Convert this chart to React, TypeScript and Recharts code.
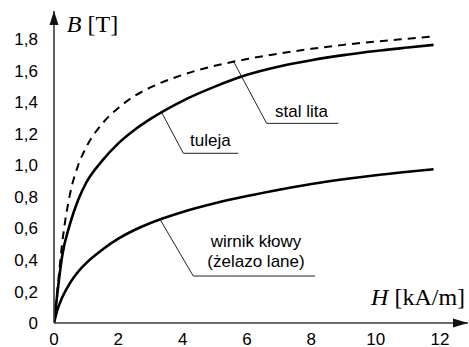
import React from 'react';
import {
  LineChart,
  Line,
  XAxis,
  YAxis,
  ReferenceLine,
  ReferenceDot,
} from 'recharts';

// Magnetising curves B(H) for three materials
const fieldH = [0, 0.1, 0.25, 0.5, 0.75, 1, 1.5, 2, 2.5, 3, 4, 5, 6, 7, 8, 9, 10, 11, 11.8];
const stalLita = [0, 0.2, 0.5, 0.82, 1.0, 1.115, 1.265, 1.365, 1.44, 1.495, 1.575, 1.632, 1.675, 1.71, 1.74, 1.765, 1.786, 1.804, 1.818];
const tuleja = [0, 0.18, 0.42, 0.63, 0.78, 0.89, 1.03, 1.14, 1.225, 1.295, 1.41, 1.5, 1.575, 1.628, 1.668, 1.7, 1.726, 1.748, 1.765];
const wirnik = [0, 0.08, 0.16, 0.255, 0.325, 0.38, 0.465, 0.535, 0.59, 0.635, 0.705, 0.76, 0.806, 0.846, 0.882, 0.912, 0.938, 0.96, 0.976];

const xTicks = [0, 2, 4, 6, 8, 10, 12];
const yTicks = [0, 0.2, 0.4, 0.6, 0.8, 1.0, 1.2, 1.4, 1.6, 1.8];

const X_MAX = 12.87;
const Y_MAX = 1.98;

const data = fieldH.map((h, i) => ({
  h,
  stal: stalLita[i],
  tul: tuleja[i],
  wir: wirnik[i],
}));

const SANS = '"Liberation Sans", Arial, sans-serif';
const SERIF = '"Liberation Serif", "Times New Roman", serif';
const AXIS_COLOR = '#3a3a3a';
const LEADER_COLOR = '#222';

type Pt = [number, number];
type Leader = { pts: Pt[]; text: string[]; at: Pt; anchor: 'start' | 'middle' };

// Callout leaders: polyline in (H, B) units plus the label next to it
const leaders: Leader[] = [
  { pts: [[5.57, 1.664], [6.61, 1.267], [8.84, 1.267]], text: ['stal lita'], at: [6.87, 1.307], anchor: 'start' },
  { pts: [[3.33, 1.343], [4.02, 1.077], [5.73, 1.077]], text: ['tuleja'], at: [4.23, 1.123], anchor: 'start' },
  { pts: [[3.3, 0.656], [4.33, 0.298], [8.11, 0.298]], text: ['wirnik kłowy', '(żelazo lane)'], at: [6.28, 0.484], anchor: 'middle' },
];

const fmtY = (v: number) => (v === 0 ? '0' : v.toFixed(1).replace('.', ','));

export default function App() {
  return (
    <div style={{ position: 'absolute', left: 0, top: 0, background: '#fff' }}>
      <LineChart
        width={469}
        height={347}
        data={data}
        margin={{ top: 11, right: 1, bottom: 0, left: 0 }}
      >
        <XAxis
          dataKey="h"
          type="number"
          domain={[0, X_MAX]}
          allowDataOverflow
          ticks={xTicks}
          height={24}
          tickLine={false}
          tickSize={4}
          tickMargin={6}
          axisLine={{ stroke: AXIS_COLOR, strokeWidth: 1.6 }}
          tick={{ fontSize: 17, fill: '#000', fontFamily: SANS }}
          interval={0}
        />
        <YAxis
          type="number"
          domain={[0, Y_MAX]}
          allowDataOverflow
          ticks={yTicks}
          width={54}
          tickLine={false}
          tickSize={8}
          tickMargin={8}
          tickFormatter={fmtY}
          axisLine={{ stroke: AXIS_COLOR, strokeWidth: 1.6 }}
          tick={{ fontSize: 17, fill: '#000', fontFamily: SANS }}
          interval={0}
        />

        {/* arrowheads at the ends of both axes */}
        <ReferenceDot
          x={X_MAX}
          y={0}
          ifOverflow="visible"
          shape={(p: any) => (
            <polygon
              points={`${p.cx},${p.cy} ${p.cx - 15},${p.cy - 4.5} ${p.cx - 15},${p.cy + 4.5}`}
              fill="#111"
            />
          )}
        />
        <ReferenceDot
          x={0}
          y={Y_MAX}
          ifOverflow="visible"
          shape={(p: any) => (
            <polygon
              points={`${p.cx},${p.cy} ${p.cx - 4.5},${p.cy + 14} ${p.cx + 4.5},${p.cy + 14}`}
              fill="#111"
            />
          )}
        />

        {/* axis titles */}
        <ReferenceDot
          x={0.4}
          y={1.846}
          ifOverflow="visible"
          shape={(p: any) => (
            <text x={p.cx} y={p.cy} fontFamily={SERIF} fontSize={24} fill="#000">
              <tspan fontStyle="italic">B</tspan>
              <tspan> [T]</tspan>
            </text>
          )}
        />
        <ReferenceDot
          x={12.78}
          y={0.114}
          ifOverflow="visible"
          shape={(p: any) => (
            <text x={p.cx} y={p.cy} fontFamily={SERIF} fontSize={24} fill="#000" textAnchor="end">
              <tspan fontStyle="italic">H</tspan>
              <tspan> [kA/m]</tspan>
            </text>
          )}
        />

        {/* callout leaders */}
        {leaders.flatMap((l, li) =>
          l.pts.slice(1).map((pt, si) => (
            <ReferenceLine
              key={`leader-${li}-${si}`}
              segment={[
                { x: l.pts[si][0], y: l.pts[si][1] },
                { x: pt[0], y: pt[1] },
              ]}
              stroke={LEADER_COLOR}
              strokeWidth={1}
              ifOverflow="visible"
            />
          ))
        )}
        {leaders.map((l, li) => (
          <ReferenceDot
            key={`label-${li}`}
            x={l.at[0]}
            y={l.at[1]}
            ifOverflow="visible"
            shape={(p: any) => (
              <text
                x={p.cx}
                y={p.cy}
                fontFamily={SANS}
                fontSize={17}
                fill="#000"
                textAnchor={l.anchor}
              >
                {l.text.map((t, ti) => (
                  <tspan key={ti} x={p.cx} dy={ti === 0 ? 0 : 20.5}>
                    {t}
                  </tspan>
                ))}
              </text>
            )}
          />
        ))}

        <Line
          dataKey="stal"
          type="monotone"
          stroke="#000"
          strokeWidth={2}
          strokeDasharray="8 6"
          dot={false}
          activeDot={false}
          isAnimationActive={false}
        />
        <Line
          dataKey="tul"
          type="monotone"
          stroke="#000"
          strokeWidth={2.6}
          dot={false}
          activeDot={false}
          isAnimationActive={false}
        />
        <Line
          dataKey="wir"
          type="monotone"
          stroke="#000"
          strokeWidth={2.6}
          dot={false}
          activeDot={false}
          isAnimationActive={false}
        />
      </LineChart>
    </div>
  );
}
